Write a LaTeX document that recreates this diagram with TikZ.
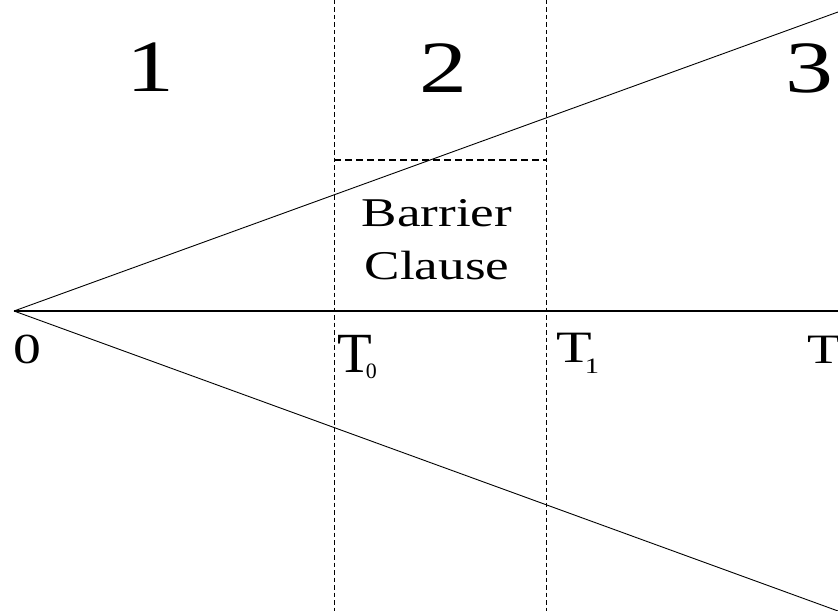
\documentclass[tikz,border=0pt]{standalone}
\usepackage{fontspec}
\setmainfont{Liberation Serif}[FakeStretch=1.3]
\newfontfamily\plainserif{Liberation Serif}
\usetikzlibrary{positioning}

\newcommand{\subidx}[3]{\kern-#1\raisebox{-#2}{\fontsize{22}{22}\selectfont #3}}

\begin{document}
\begin{tikzpicture}[
    x=1bp, y=-1bp,
    ray/.style={line width=0.9bp},
    axis/.style={line width=1.8bp},
    bound/.style={line width=0.8bp, dash pattern=on 4.5bp off 3bp},
    barrier/.style={line width=1.4bp, dash pattern=on 7bp off 4bp},
    region/.style={font=\fontsize{74}{74}\selectfont, inner sep=0pt},
    tick/.style={font=\fontsize{44}{44}\selectfont, inner sep=0pt, anchor=base west},
  ]
  \useasboundingbox (0,0) rectangle (838,611);

  % Origin and ends of the rays
  \coordinate (O)  at (14,311);
  \coordinate (E)  at (838,311);
  \coordinate (Up) at (838,12);
  \coordinate (Lo) at (838,611);

  % Time boundaries
  \coordinate (T0top) at (334,0);
  \coordinate (T0bot) at (334,611);
  \coordinate (T1top) at (546,0);
  \coordinate (T1bot) at (546,611);
  \coordinate (B0) at (334,160);
  \coordinate (B1) at (546,160);

  % Rays and time axis
  \draw[ray] (O) -- (Up);
  \draw[ray] (O) -- (Lo);
  \draw[axis] (O) -- (E);

  % Dashed boundaries
  \draw[bound] (T0top) -- (T0bot);
  \draw[bound] (T1top) -- (T1bot);
  \draw[barrier] (B0) -- (B1);

  % Region numbers
  \node[region] (r1) at (150,67) {1};
  \node[region] (r2) at (443,68) {2};
  \node[region] (r3) at (809,68) {3};

  % Barrier label
  \node[font=\fontsize{41}{53}\selectfont, align=center, inner sep=0pt] (bc) at (437,240) {Barrier\\Clause};

  % Axis labels
  \node[tick, font=\fontsize{43}{43}\selectfont] (l0) at (13,363) {0};
  \node[tick, font=\plainserif\fontsize{57}{57}\selectfont] (t0) at (337,372) {T\subidx{6bp}{6bp}{0}};
  \node[tick, font=\fontsize{45}{45}\selectfont] (t1) at (556,362) {T\subidx{7bp}{11bp}{1}};
  \node[tick, font=\fontsize{42}{42}\selectfont] (tt) at (807,363) {T};
\end{tikzpicture}
\end{document}
